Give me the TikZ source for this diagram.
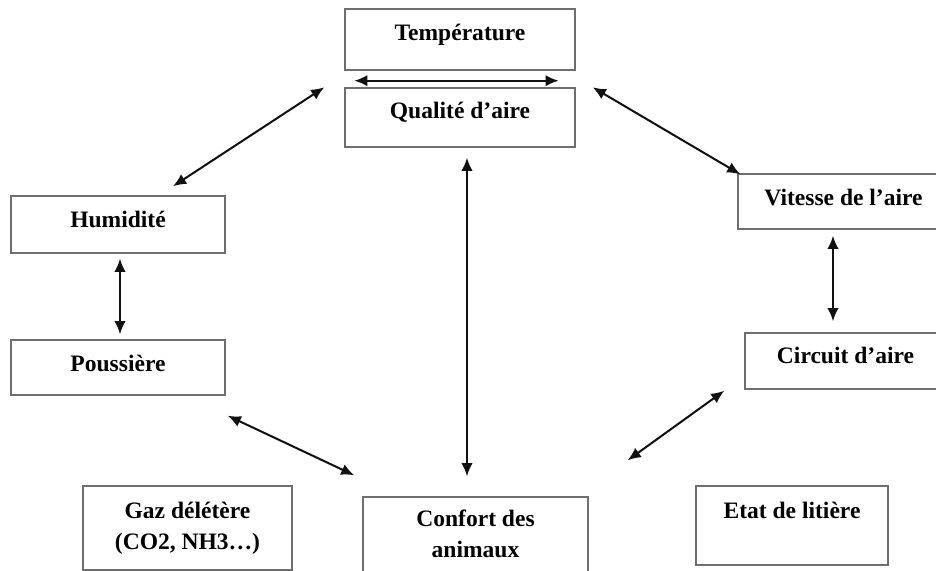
\documentclass[tikz,border=0pt]{standalone}
\usepackage{fontspec}
\setmainfont{Liberation Serif}
\usetikzlibrary{arrows.meta,calc,positioning}
\definecolor{BoxGray}{HTML}{6E6E6E}
\definecolor{ArrowBlack}{HTML}{111111}

\begin{document}
\begin{tikzpicture}[x=0.02cm, y=-0.02cm,
  box/.style 2 args={draw=BoxGray, line width=0.8pt, inner sep=0pt,
    minimum width=#1*0.02cm, minimum height=#2*0.02cm},
  txt/.style={font=\bfseries\fontsize{13.4}{17.5}\selectfont, inner sep=0pt,
    anchor=base, align=center},
  link/.style={{Latex[length=7.5pt,width=6.5pt]}-{Latex[length=7.5pt,width=6.5pt]},
    ArrowBlack, line width=1.15pt}]
\useasboundingbox (0,0) rectangle (936,571);
\clip (0,0) rectangle (936,571);

% boxes
\node[box={230}{61}] (temp) at (460,39.5) {};
\node[box={230}{59}] (qual) at (460,117.5) {};
\node[box={214}{57}] (humid) at (118,224.5) {};
\node[box={214}{55}] (pouss) at (118,367.5) {};
\node[box={211}{55}] (vit) at (843.5,201.5) {};
\node[box={201}{56}] (circ) at (845.5,361) {};
\node[box={209}{84}] (gaz) at (187.5,528) {};
\node[box={225}{90}] (conf) at (475.5,542) {};
\node[box={192}{79}] (etat) at (792,525.5) {};

% texts
\node[txt] (tempText) at (460,41) {Température};
\node[txt] (qualText) at (460,118) {Qualité d’aire};
\node[txt] (humidText) at (118,227) {Humidité};
\node[txt] (poussText) at (118,371) {Poussière};
\node[txt] (vitText) at (843.5,205) {Vitesse de l’aire};
\node[txt] (circText) at (845.5,363) {Circuit d’aire};
\node[txt] (gazText) at (187.5,549) {Gaz délétère\\(CO2, NH3…)};
\node[txt] (confText) at (475.5,557) {Confort des\\animaux};
\node[txt] (etatText) at (792,518) {Etat de litière};

% arrows
\draw[link] ($(temp.south west)+(10,10)$) -- ($(temp.south east)+(-17,10)$);
\draw[link] ($(qual.north west)+(-20,0)$) -- ($(humid.north)+(55,-9)$);
\draw[link] ($(qual.north east)+(17,0)$) -- ($(vit.north west)+(3,1)$);
\draw[link] ($(qual.south)+(7,10)$) -- ($(conf.north)+(-8.5,-20)$);
\draw[link] ($(humid.south)+(2,5)$) -- ($(pouss.north)+(2,-5)$);
\draw[link] ($(vit.south)+(-10.5,6)$) -- ($(circ.north)+(-12.5,-11)$);
\draw[link] ($(pouss.south east)+(2,20)$) -- ($(conf.north west)+(-8,-21)$);
\draw[link] ($(circ.south west)+(-20,1)$) -- ($(conf.north east)+(39,-36)$);

\end{tikzpicture}
\end{document}
